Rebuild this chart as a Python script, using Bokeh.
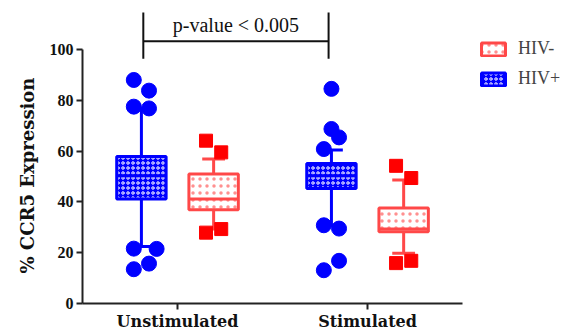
from bokeh.plotting import figure
from bokeh.models import Range1d, FixedTicker, Legend, LegendItem, Title
from bokeh.core.properties import value
from bokeh.embed import file_html
from bokeh.resources import INLINE

# ---------------- data ----------------
categories = ["Unstimulated", "Stimulated"]
y_ticks = [0, 20, 40, 60, 80, 100]

# HIV+ box statistics (per category)
pos_q1 = [41.1, 45.3]
pos_med = [50.3, 50.3]
pos_q3 = [57.9, 55.1]
pos_lo = [22.4, 30.6]
pos_hi = [76.8, 60.4]

# HIV- box statistics (per category)
neg_q1 = [36.9, 28.2]
neg_med = [41.1, 29.3]
neg_q3 = [51.0, 37.6]
neg_lo = [29.3, 19.8]
neg_hi = [56.9, 48.6]

# outlying points (category index, value)
pos_pt_cat = [0, 0, 0, 0, 0, 0, 0, 0, 1, 1, 1, 1, 1, 1, 1, 1]
pos_pt_val = [88.0, 83.8, 77.5, 76.8, 21.6, 21.5, 15.7, 13.5,
              84.5, 68.7, 65.4, 60.8, 30.8, 29.5, 16.8, 13.1]
neg_pt_cat = [0, 0, 0, 0, 1, 1, 1, 1]
neg_pt_val = [64.1, 59.5, 29.3, 27.9, 54.2, 49.4, 16.8, 15.9]

# ---------------- layout / style ----------------
pos_jit = [-0.04, 0.04, -0.04, 0.04, -0.04, 0.08, 0.04, -0.04,
           0.0, 0.0, 0.04, -0.04, -0.04, 0.04, 0.04, -0.04]
neg_jit = [-0.04, 0.04, 0.04, -0.04, -0.04, 0.04, 0.04, -0.04]
OFF_POS, OFF_NEG = -0.19, 0.19
BOX_W = 0.26
CAP_W = 0.12
BLUE = "#0000FF"
RED = "#FF0000"
LRED = "#FF4848"
SERIF = "Liberation Serif"

p = figure(width=570, height=333, x_range=Range1d(0.5, 3.068), y_range=Range1d(0, 115.35),
           output_backend="svg", toolbar_location=None,
           min_border_left=82, min_border_right=0, min_border_top=10, min_border_bottom=30)
p.grid.visible = False
p.outline_line_color = None

xs = [i + 1 for i in range(len(categories))]


def draw_box(off, q1, med, q3, lo, hi, color, fill, hatch, hatch_color, hatch_scale):
    cx = [x + off for x in xs]
    # whiskers
    p.segment(x0=cx, y0=q3, x1=cx, y1=hi, line_color=color, line_width=3)
    p.segment(x0=cx, y0=lo, x1=cx, y1=q1, line_color=color, line_width=3)
    p.segment(x0=[c - CAP_W / 2 for c in cx], y0=hi, x1=[c + CAP_W / 2 for c in cx], y1=hi,
              line_color=color, line_width=3)
    p.segment(x0=[c - CAP_W / 2 for c in cx], y0=lo, x1=[c + CAP_W / 2 for c in cx], y1=lo,
              line_color=color, line_width=3)
    r = p.vbar(x=cx, width=BOX_W, bottom=q1, top=q3, fill_color=fill, line_color=color,
               line_width=3, hatch_pattern=hatch, hatch_color=hatch_color,
               hatch_scale=hatch_scale, hatch_weight=1)
    p.segment(x0=[c - BOX_W / 2 for c in cx], y0=med, x1=[c + BOX_W / 2 for c in cx], y1=med,
              line_color=color, line_width=3)
    return r


box_pos = draw_box(OFF_POS, pos_q1, pos_med, pos_q3, pos_lo, pos_hi, BLUE, BLUE,
                   "ring", "white", 5)
box_neg = draw_box(OFF_NEG, neg_q1, neg_med, neg_q3, neg_lo, neg_hi, LRED, "white",
                   "dot", "#FF9090", 7)

p.scatter(x=[xs[c] + OFF_POS + j for c, j in zip(pos_pt_cat, pos_jit)], y=pos_pt_val,
          marker="circle", size=15, fill_color=BLUE, line_color=BLUE)
p.scatter(x=[xs[c] + OFF_NEG + j for c, j in zip(neg_pt_cat, neg_jit)], y=neg_pt_val,
          marker="square", size=13, fill_color=RED, line_color=RED)

# significance bracket
bx0, bx1 = xs[0] + OFF_POS + 0.01, xs[1] + OFF_POS - 0.015
p.segment(x0=[bx0, bx1, bx0], y0=[96.4, 96.4, 103.2], x1=[bx0, bx1, bx1], y1=[114.6, 114.6, 103.2],
          line_color="#111111", line_width=2)
p.text(x=[(bx0 + bx1) / 2], y=[109.6], text=["p-value < 0.005"], text_align="center",
       text_baseline="middle", text_font=value(SERIF), text_font_size="20px", text_color="#111111")

# axes
p.xaxis.bounds = (0.5, 2.5)
p.yaxis.bounds = (0, 100)
p.xaxis.ticker = FixedTicker(ticks=xs)
p.xaxis.major_label_overrides = {x: c for x, c in zip(xs, categories)}
p.yaxis.ticker = FixedTicker(ticks=y_ticks)
for ax in (p.xaxis, p.yaxis):
    ax.axis_line_width = 2
    ax.axis_line_color = "#222222"
    ax.major_tick_line_width = 2
    ax.major_tick_line_color = "#222222"
    ax.major_tick_out = 6
    ax.major_tick_in = 0
    ax.minor_tick_line_color = None
    ax.major_label_text_font = SERIF
    ax.major_label_text_font_style = "bold"
    ax.major_label_text_color = "#111111"
p.xaxis.major_label_text_font = "DejaVu Serif"
p.xaxis.major_label_text_font_size = "16px"
p.xaxis.major_label_standoff = 2
p.yaxis.major_label_text_font_size = "16px"
p.yaxis.major_label_standoff = 3

# y-axis title as a side title, starting just above the bottom of the axis
p.add_layout(Title(text="% CCR5 Expression", align="left", offset=30,
                   text_font="DejaVu Serif", text_font_style="bold", text_font_size="18px",
                   text_color="#111111", standoff=18), "left")

legend = Legend(items=[LegendItem(label="HIV-", renderers=[box_neg]),
                       LegendItem(label="HIV+", renderers=[box_pos])],
                location=(396, 214), orientation="vertical",
                glyph_width=30, glyph_height=16, label_standoff=10, spacing=9,
                padding=0, margin=0, label_text_font=SERIF, label_text_font_size="18px",
                background_fill_alpha=0, border_line_alpha=0)
p.add_layout(legend)

open("out.html", "w").write(file_html(p, INLINE))
